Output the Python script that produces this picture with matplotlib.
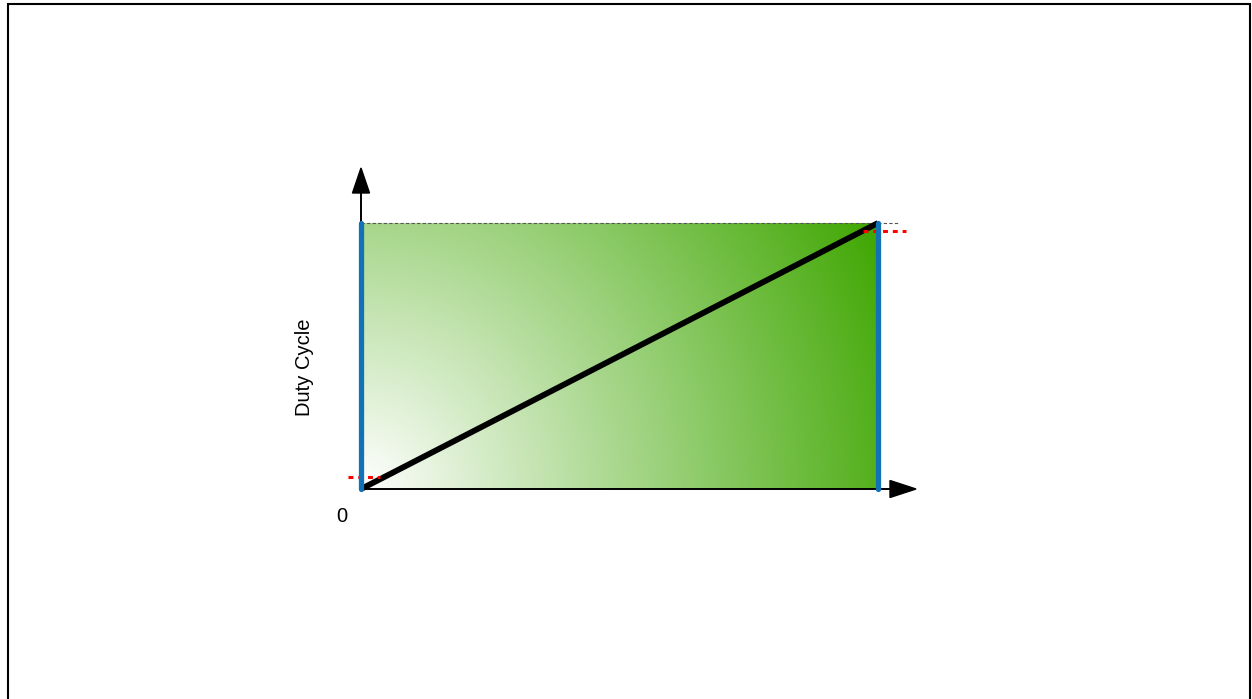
import numpy as np
import matplotlib
matplotlib.use("Agg")
import matplotlib.pyplot as plt
from matplotlib.patches import Polygon, Rectangle

plt.rcParams['font.family'] = ['Liberation Sans', 'DejaVu Sans']

# ---- data ----
ramp_x = [0.0, 1.0]          # period fraction
ramp_duty = [0.0, 1.0]       # duty cycle
period_edges = [0.0, 1.0]    # blue vertical markers
low_limit = 0.045            # lower red dotted level
low_limit_x = [-0.025, 0.037]
high_limit = 0.97            # upper red dotted level
high_limit_x = [0.971, 1.054]
top_level = 1.0
top_level_x = [0.0, 1.039]
origin_label = "0"
y_label = "Duty Cycle"

W, H = 1252, 699
fig = plt.figure(figsize=(W / 100, H / 100), dpi=100)
fig.patch.set_facecolor('white')

px_l, px_r, px_t, px_b = 361, 878, 223, 489
ax = fig.add_axes([px_l / W, (H - px_b) / H, (px_r - px_l) / W, (px_b - px_t) / H])
ax.set_xlim(0, 1)
ax.set_ylim(0, 1)
ax.axis('off')

# radial gradient fill from bottom-left corner
wpx, hpx = px_r - px_l, px_b - px_t
gx = np.linspace(0, 1, 600)
gy = np.linspace(0, 1, 320)
GX, GY = np.meshgrid(gx, gy)
dist = np.sqrt((GX * wpx) ** 2 + (GY * hpx) ** 2) / np.hypot(wpx, hpx)
t = np.clip(dist, 0, 1)[..., None]
c0 = np.array([255, 255, 255]) / 255
c1 = np.array([62, 166, 0]) / 255
img = c0 * (1 - t) + c1 * t
ax.imshow(img, extent=[0, 1, 0, 1], origin='lower', aspect='auto',
          interpolation='bilinear', zorder=1)

# top dashed reference line
ax.plot(top_level_x, [top_level, top_level], color='#555555', lw=0.8,
        dashes=(3, 2), clip_on=False, zorder=2)

# axes lines and arrowheads
yb, yt = 1.1128, 1.2068
hw = 8.5 / wpx
ax.plot([0, 0], [0, yb], color='black', lw=1.4, clip_on=False, zorder=3)
ax.add_patch(Polygon([[-hw, yb], [hw, yb], [0, yt]], closed=True,
                     color='black', clip_on=False, zorder=3))
xb, xt = 1.0232, 1.0735
hh = 8.5 / hpx
ax.plot([0, xb], [0, 0], color='black', lw=1.4, clip_on=False, zorder=3)
ax.add_patch(Polygon([[xb, -hh], [xb, hh], [xt, 0]], closed=True,
                     color='black', clip_on=False, zorder=3))

# ramp
ax.plot(ramp_x, ramp_duty, color='black', lw=4.2, solid_capstyle='butt',
        clip_on=False, zorder=4)

# red dotted limit levels
ax.plot(low_limit_x, [low_limit, low_limit], color='#ff0000', lw=2.2,
        dashes=(1.6, 1.6), clip_on=False, zorder=5)
ax.plot(high_limit_x, [high_limit, high_limit], color='#ff0000', lw=2.2,
        dashes=(1.6, 1.6), clip_on=False, zorder=5)

# blue period edges
for xe in period_edges:
    ax.plot([xe, xe], [0, 1], color='#1172b6', lw=3.8, solid_capstyle='round',
            clip_on=False, zorder=6)

# labels
fig.text(342 / W, 1 - 516 / H, origin_label, ha='center', va='center', fontsize=14.5)
fig.text(304 / W, 1 - 367 / H, y_label, ha='center', va='center', rotation=90,
         fontsize=14.5)

# outer border
fig.add_artist(Rectangle((7.7 / W, -0.02), (1249.5 - 7.7) / W, 1 - 4 / H + 0.02,
                         transform=fig.transFigure, fill=False, lw=1.5,
                         edgecolor='black'))

fig.savefig('out.png', dpi=100, facecolor='white')
